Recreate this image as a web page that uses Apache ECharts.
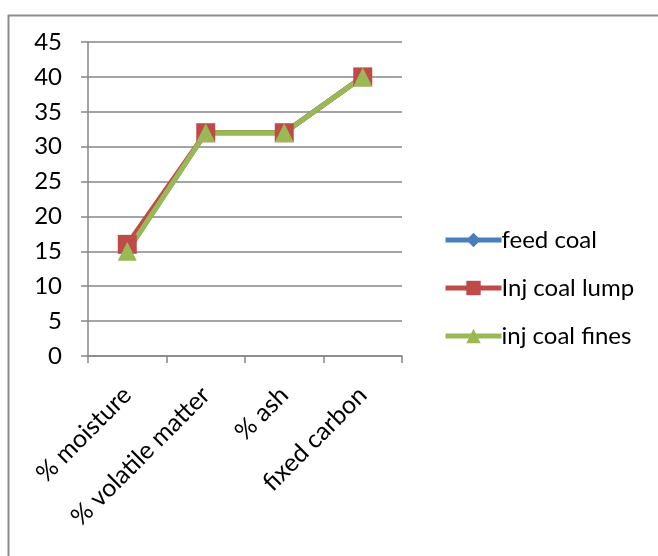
<!DOCTYPE html>
<html>
<head>
<meta charset="utf-8">
<script src="https://cdn.jsdelivr.net/npm/echarts@6/dist/echarts.min.js"></script>
<style>
  html, body { margin: 0; padding: 0; background: #fff; }
  #chart { width: 658px; height: 556px; }
</style>
</head>
<body>
<div id="chart"></div>
<script>
// Proximate analysis of coal samples
const categories = ['% moisture', '% volatile matter', '% ash', 'fixed carbon'];
const feedCoal = [15, 32, 32, 40];
const injCoalLump = [16, 32, 32, 40];
const injCoalFines = [15, 32, 32, 40];
const yTicks = { min: 0, max: 45, interval: 5 };

const FONT = 'Lato, "Open Sans", sans-serif';
const FONT_SIZE = 24;
const chart = echarts.init(document.getElementById('chart'), null, { renderer: 'canvas' });

function lineSeries(name, data, color, symbol, size) {
  return {
    name: name,
    type: 'line',
    data: data,
    symbol: symbol,
    symbolSize: size,
    lineStyle: { color: color, width: 5 },
    itemStyle: { color: color },
    emphasis: { disabled: true },
    animation: false
  };
}

chart.setOption({
  animation: false,
  graphic: [{
    type: 'rect',
    left: 6, top: 13,
    shape: { width: 720, height: 620 },
    style: { fill: 'none', stroke: '#8c8c8c', lineWidth: 2 },
    silent: true
  }],
  grid: { left: 88, top: 42, width: 314, height: 314 },
  legend: {
    orient: 'vertical',
    left: 438, top: 223,
    itemWidth: 56, itemHeight: 18,
    itemGap: 24,
    lineStyle: { width: 5 },
    textStyle: { fontFamily: FONT, fontSize: FONT_SIZE, color: '#000', padding: [0, 0, 0, -5] },
    data: ['feed coal', 'Inj coal lump', 'inj coal fines']
  },
  xAxis: {
    type: 'category',
    data: categories,
    boundaryGap: true,
    axisLine: { lineStyle: { color: '#868686', width: 1.5 } },
    axisTick: { show: true, length: 7, lineStyle: { color: '#868686', width: 1.5 } },
    axisLabel: {
      rotate: 45, interval: 0, margin: 35,
      fontFamily: FONT, fontSize: 25, color: '#000'
    },
    splitLine: { show: false }
  },
  yAxis: {
    type: 'value',
    min: yTicks.min, max: yTicks.max, interval: yTicks.interval,
    axisLine: { show: true, lineStyle: { color: '#868686', width: 1.5 } },
    axisTick: { show: true, length: 7, lineStyle: { color: '#868686', width: 1.5 } },
    axisLabel: { margin: 26, fontFamily: FONT, fontSize: FONT_SIZE, color: '#000' },
    splitLine: { show: true, lineStyle: { color: '#868686', width: 1.5 } }
  },
  series: [
    lineSeries('feed coal', feedCoal, '#4A7EBB', 'diamond', 16),
    lineSeries('Inj coal lump', injCoalLump, '#BE4B48', 'rect', 19),
    lineSeries('inj coal fines', injCoalFines, '#98B954', 'triangle', 19)
  ]
});
</script>
</body>
</html>
